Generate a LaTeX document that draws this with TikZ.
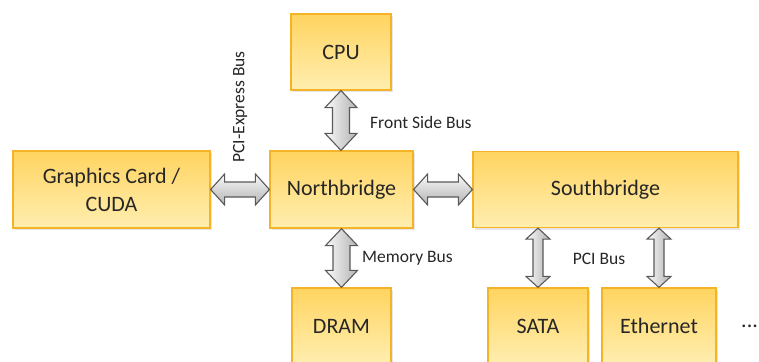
\documentclass[tikz,border=0pt]{standalone}
\usepackage{fontspec}
\setmainfont{Carlito}
\usepackage{tikz}
\usetikzlibrary{calc,shadows,positioning}

\definecolor{boxtop}{RGB}{255,212,96}
\definecolor{boxbot}{RGB}{255,238,176}
\definecolor{boxline}{RGB}{245,180,40}
\definecolor{txt}{RGB}{38,38,38}

\tikzset{
	hw_box/.style = {rectangle, draw=boxline, line width=1.2pt, top color=boxtop, bottom color=boxbot,
		text=txt, align=center, inner sep=2pt, font=\fontsize{22}{28}\selectfont,
		drop shadow={opacity=0.2, shadow xshift=1.5pt, shadow yshift=-2pt}},
	bus_lbl/.style = {text=txt, inner sep=0pt, font=\fontsize{17.5}{20}\selectfont},
	bus_arrow/.style = {draw=black!65, line width=1.1pt, line join=miter}
}

% vertical double block arrow: from, to, half head, half shaft, head length
\newcommand{\vbus}[5]{%
	\draw[bus_arrow, left color=gray!4, right color=gray!60] let \p1=(#1), \p2=(#2) in
	(\x1,\y1) -- ({\x1+#3},{\y1-#5}) -- ({\x1+#4},{\y1-#5}) -- ({\x1+#4},{\y2+#5})
	-- ({\x1+#3},{\y2+#5}) -- (\x1,\y2) -- ({\x1-#3},{\y2+#5}) -- ({\x1-#4},{\y2+#5})
	-- ({\x1-#4},{\y1-#5}) -- ({\x1-#3},{\y1-#5}) -- cycle;}
% horizontal double block arrow
\newcommand{\hbus}[5]{%
	\draw[bus_arrow, top color=gray!4, bottom color=gray!60] let \p1=(#1), \p2=(#2) in
	(\x1,\y1) -- ({\x1+#5},{\y1+#3}) -- ({\x1+#5},{\y1+#4}) -- ({\x2-#5},{\y1+#4})
	-- ({\x2-#5},{\y1+#3}) -- (\x2,\y1) -- ({\x2-#5},{\y1-#3}) -- ({\x2-#5},{\y1-#4})
	-- ({\x1+#5},{\y1-#4}) -- ({\x1+#5},{\y1-#3}) -- cycle;}

\begin{document}
\begin{tikzpicture}[x=1pt, y=-1pt]
\useasboundingbox (0,0) rectangle (759,361);

% chipset blocks
\node [hw_box, minimum width=100pt, minimum height=76pt] (cpu) at (341,52) {CPU};
\node [hw_box, minimum width=143pt, minimum height=77pt] (nb) at (341.5,189.5) {Northbridge};
\node [hw_box, minimum width=197pt, minimum height=77pt] (gpu) at (111.5,189.5) {Graphics Card /\\CUDA};
\node [hw_box, minimum width=265pt, minimum height=76pt] (sb) at (605.5,189.5) {Southbridge};
\node [hw_box, minimum width=99pt, minimum height=76pt] (dram) at (341.5,326) {DRAM};
\node [hw_box, minimum width=100pt, minimum height=76pt] (sata) at (538,326) {SATA};
\node [hw_box, minimum width=114pt, minimum height=76pt] (eth) at (659,326) {Ethernet};
\node [text=txt, font=\fontsize{22}{28}\selectfont, anchor=west, inner sep=0pt] (more) at (741,326) {...};

% buses
\vbus{cpu.south}{nb.north}{16pt}{8.5pt}{17pt}
\vbus{nb.south}{dram.north}{16pt}{8.5pt}{17pt}
\hbus{gpu.east}{nb.west}{15.5pt}{7.5pt}{14pt}
\hbus{nb.east}{sb.west}{15.5pt}{7.5pt}{14pt}
\vbus{sata.north |- sb.south}{sata.north}{12pt}{5pt}{11pt}
\vbus{eth.north |- sb.south}{eth.north}{12pt}{5pt}{11pt}

% bus names
\node [bus_lbl, rotate=90] (pcie) at (240,107) {PCI-Express Bus};
\node [bus_lbl, anchor=west] (fsb) at (370,122) {Front Side Bus};
\node [bus_lbl, anchor=west] (mem) at (362,258) {Memory Bus};
\node [bus_lbl] (pci) at (599,259) {PCI Bus};
\end{tikzpicture}
\end{document}
